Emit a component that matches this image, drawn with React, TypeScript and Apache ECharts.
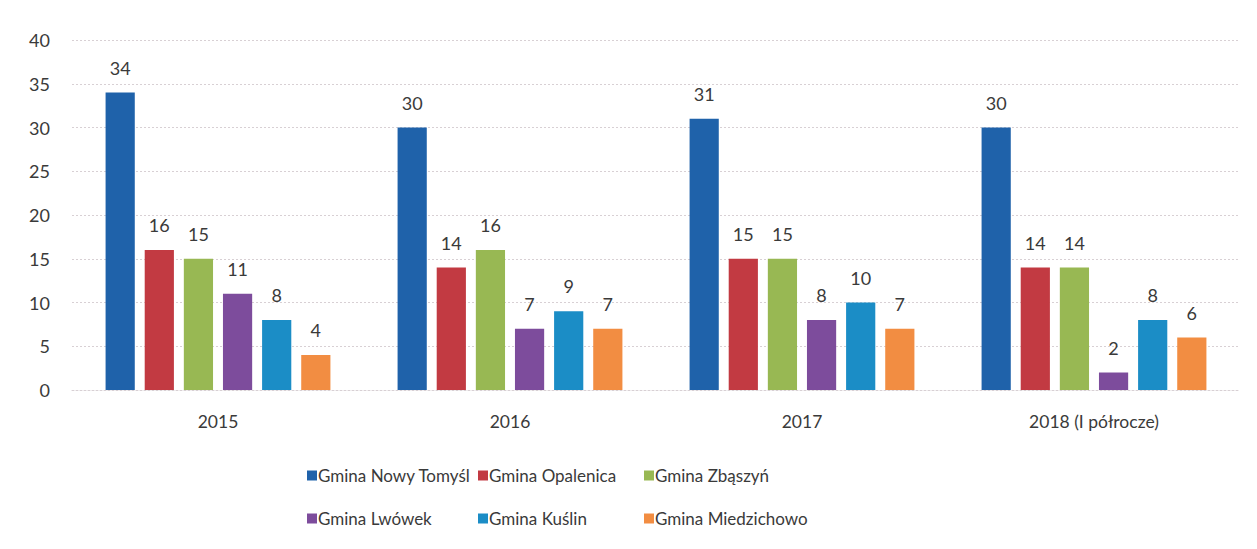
import React, { useEffect, useRef } from "react";
import * as echarts from "echarts";

const categories = ["2015", "2016", "2017", "2018 (I półrocze)"];
const seriesNames = [
  "Gmina Nowy Tomyśl",
  "Gmina Opalenica",
  "Gmina Zbąszyń",
  "Gmina Lwówek",
  "Gmina Kuślin",
  "Gmina Miedzichowo",
];
const nowyTomysl = [34, 30, 31, 30];
const opalenica = [16, 14, 15, 14];
const zbaszyn = [15, 16, 15, 14];
const lwowek = [11, 7, 8, 2];
const kuslin = [8, 9, 10, 8];
const miedzichowo = [4, 7, 7, 6];
const yTicks = { min: 0, max: 40, interval: 5 };

const colors = ["#1f62aa", "#c23a42", "#98b853", "#7d4c9c", "#1b8dc6", "#f28d42"];
const FONT = "Lato, 'Open Sans', sans-serif";
const TEXT = "#3a3a3a";
const GRID = "#d8d0d4";

export default function App() {
  const ref = useRef<HTMLDivElement>(null);
  useEffect(() => {
    if (!ref.current) return;
    const chart = echarts.init(ref.current, undefined, { renderer: "svg" });
    const data = [nowyTomysl, opalenica, zbaszyn, lwowek, kuslin, miedzichowo];
    const legendBase = {
      orient: "vertical" as const,
      top: 462,
      itemWidth: 10,
      itemHeight: 10,
      itemGap: 26,
      icon: "rect",
      textStyle: { fontSize: 17, color: TEXT, fontFamily: FONT, padding: [0, 0, 0, -4] },
    };
    chart.setOption({
      animation: false,
      textStyle: { fontFamily: FONT },
      grid: { left: 72, right: 17, top: 40, bottom: 159, containLabel: false },
      legend: [
        { ...legendBase, left: 302, data: [seriesNames[0], seriesNames[3]] },
        { ...legendBase, left: 473, data: [seriesNames[1], seriesNames[4]] },
        { ...legendBase, left: 639, data: [seriesNames[2], seriesNames[5]] },
      ],
      xAxis: {
        type: "category",
        data: categories,
        axisLine: { show: true, lineStyle: { color: GRID, type: [2, 2] } },
        axisTick: { show: false },
        axisLabel: { fontSize: 17.5, color: TEXT, margin: 22, fontFamily: FONT },
      },
      yAxis: {
        type: "value",
        min: yTicks.min,
        max: yTicks.max,
        interval: yTicks.interval,
        axisLine: { show: false },
        axisTick: { show: false },
        axisLabel: { fontSize: 18, color: TEXT, margin: 22, fontFamily: FONT },
        splitLine: { lineStyle: { color: GRID, type: [2, 2], width: 1 } },
      },
      series: seriesNames.map((name, i) => ({
        name,
        type: "bar",
        data: data[i],
        barGap: "34%",
        barCategoryGap: "23%",
        itemStyle: { color: colors[i] },
        label: {
          show: true,
          position: "top",
          distance: 16,
          fontSize: 18,
          color: TEXT,
          fontFamily: FONT,
        },
      })),
    });
    return () => chart.dispose();
  }, []);
  return (
    <div
      ref={ref}
      style={{ position: "fixed", left: 0, top: 0, width: 1257, height: 549, background: "#fff" }}
    />
  );
}
